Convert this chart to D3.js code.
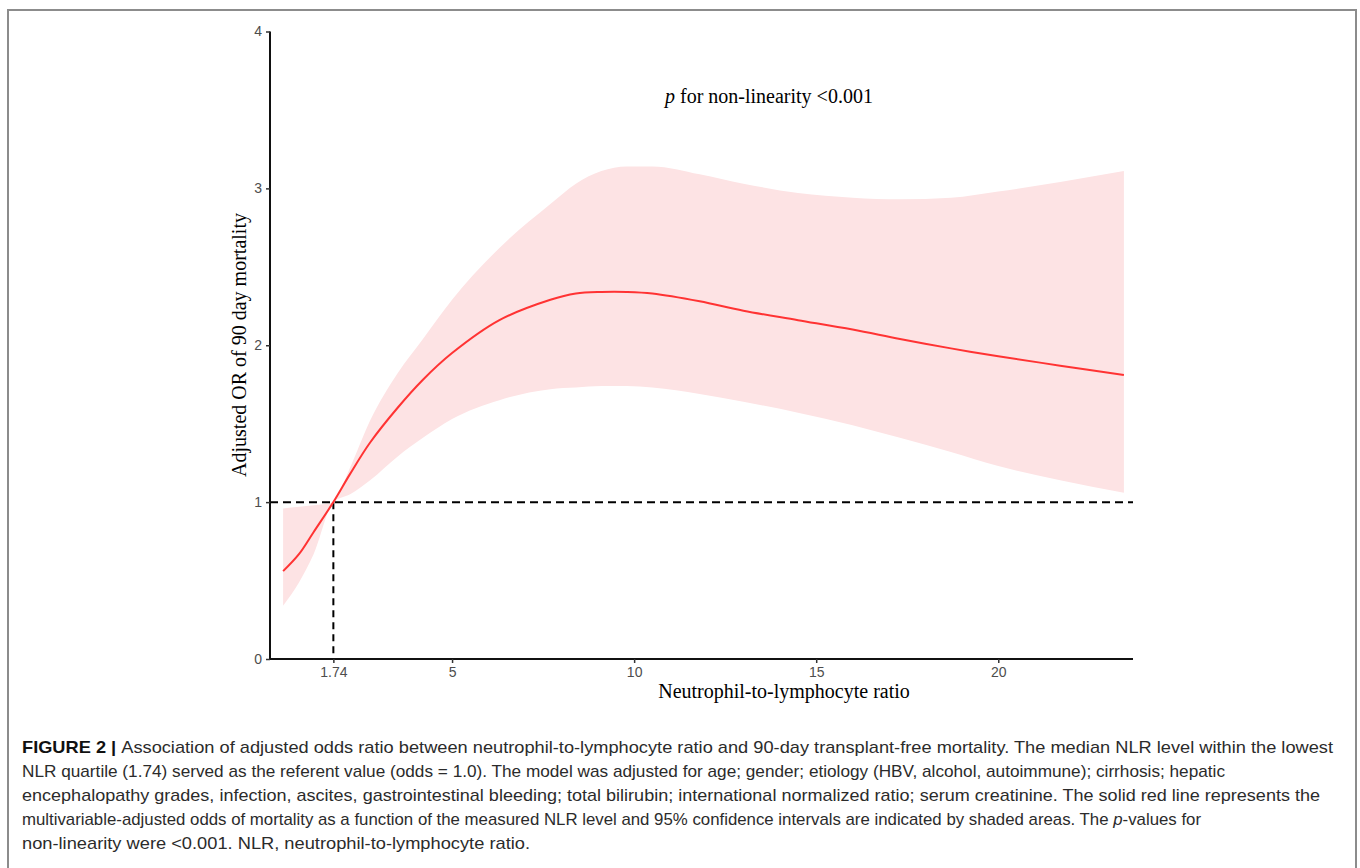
<!DOCTYPE html>
<html>
<head>
<meta charset="utf-8">
<script src="https://cdn.jsdelivr.net/npm/d3@7"></script>
<style>
  html, body { margin: 0; padding: 0; background: #fff; }
  svg { display: block; }
</style>
</head>
<body>
<div id="chart"></div>
<script>
const width = 1360;
const height = 868;

const nlr = [0.36, 0.8, 1.2, 1.74, 2.2, 2.75, 3.5, 4.2, 5, 6.3, 7.7, 8.4, 9.1, 9.8, 10.5, 11.8, 13, 14.5, 16, 17.3, 18.7, 20, 21.7, 23.45];
// adjusted OR and 95% CI
const oddsRatio = [0.56, 0.67, 0.81, 1.00, 1.18, 1.38, 1.60, 1.78, 1.95, 2.16, 2.29, 2.33, 2.34, 2.34, 2.33, 2.28, 2.22, 2.16, 2.10, 2.04, 1.98, 1.93, 1.87, 1.81];
const upperCI = [0.96, 0.97, 0.98, 1.00, 1.22, 1.52, 1.82, 2.04, 2.29, 2.62, 2.90, 3.03, 3.11, 3.14, 3.14, 3.09, 3.03, 2.97, 2.94, 2.93, 2.94, 2.98, 3.04, 3.11];
const lowerCI = [0.34, 0.49, 0.67, 1.00, 1.05, 1.14, 1.29, 1.41, 1.53, 1.65, 1.72, 1.73, 1.74, 1.74, 1.73, 1.69, 1.64, 1.57, 1.49, 1.41, 1.32, 1.23, 1.14, 1.06];

const xTicks = [1.74, 5, 10, 15, 20];
const yTicks = [0, 1, 2, 3, 4];
const refX = 1.74;
const refY = 1;

const captionLines = [
  "Association of adjusted odds ratio between neutrophil-to-lymphocyte ratio and 90-day transplant-free mortality. The median NLR level within the lowest",
  "NLR quartile (1.74) served as the referent value (odds = 1.0). The model was adjusted for age; gender; etiology (HBV, alcohol, autoimmune); cirrhosis; hepatic",
  "encephalopathy grades, infection, ascites, gastrointestinal bleeding; total bilirubin; international normalized ratio; serum creatinine. The solid red line represents the",
  "multivariable-adjusted odds of mortality as a function of the measured NLR level and 95% confidence intervals are indicated by shaded areas. The |p|-values for",
  "non-linearity were <0.001. NLR, neutrophil-to-lymphocyte ratio."
];
// right edge of each caption line in the reference
const captionEnds = [1333, 1225, 1320, 1201, 530];

const data = nlr.map((x, i) => ({ x, y: oddsRatio[i], lo: lowerCI[i], hi: upperCI[i] }));

const svg = d3.select('#chart')
  .append('svg')
  .attr('width', width)
  .attr('height', height);

// outer frame (bottom edge runs off the page)
svg.append('rect')
  .attr('x', 8).attr('y', 10)
  .attr('width', 1348).attr('height', 870)
  .attr('fill', 'none')
  .attr('stroke', '#8c8c8c')
  .attr('stroke-width', 2);

const x = d3.scaleLinear().domain([0, 23.7]).range([270, 1133]);
const y = d3.scaleLinear().domain([0, 4]).range([659, 31.5]);

// confidence band
svg.append('path')
  .datum(data)
  .attr('fill', '#fde3e4')
  .attr('d', d3.area()
    .x(d => x(d.x))
    .y0(d => y(d.lo))
    .y1(d => y(d.hi))
    .curve(d3.curveMonotoneX));

// reference lines
svg.append('line')
  .attr('x1', x(0)).attr('x2', x(23.7))
  .attr('y1', y(refY)).attr('y2', y(refY))
  .attr('stroke', '#000').attr('stroke-width', 2)
  .attr('stroke-dasharray', '8,5');

svg.append('line')
  .attr('x1', x(refX)).attr('x2', x(refX))
  .attr('y1', y(refY)).attr('y2', y(0))
  .attr('stroke', '#000').attr('stroke-width', 2)
  .attr('stroke-dasharray', '7,5');

// spline
svg.append('path')
  .datum(data)
  .attr('fill', 'none')
  .attr('stroke', '#ff3333')
  .attr('stroke-width', 2)
  .attr('d', d3.line()
    .x(d => x(d.x))
    .y(d => y(d.y))
    .curve(d3.curveCatmullRom));

// axes
const xAxis = svg.append('g')
  .attr('transform', `translate(0,${y(0)})`)
  .call(d3.axisBottom(x).tickValues(xTicks).tickSize(4).tickPadding(4)
    .tickFormat(d => d === refX ? '1.74' : d3.format('d')(d)));

const yAxis = svg.append('g')
  .attr('transform', `translate(${x(0)},0)`)
  .call(d3.axisLeft(y).tickValues(yTicks).tickSize(4).tickPadding(4)
    .tickFormat(d3.format('d')));

[xAxis, yAxis].forEach(g => {
  g.select('.domain').attr('stroke', '#111').attr('stroke-width', 2);
  g.selectAll('.tick line').attr('stroke', '#333').attr('stroke-width', 1.5);
  g.selectAll('.tick text')
    .attr('fill', '#4d4d4d')
    .attr('font-size', '14px')
    .attr('font-family', 'Liberation Sans, Arial, sans-serif');
});
// ggplot style axis lines without end caps
xAxis.select('.domain').attr('d', `M${x(0)},0H${x(23.7)}`);
yAxis.select('.domain').attr('d', `M0,${y(0)}V${y(4)}`);

// axis titles
svg.append('text')
  .attr('x', 784).attr('y', 698)
  .attr('text-anchor', 'middle')
  .attr('font-family', 'Liberation Serif, Times New Roman, serif')
  .attr('font-size', '20px')
  .attr('fill', '#000')
  .text('Neutrophil-to-lymphocyte ratio');

svg.append('text')
  .attr('transform', 'translate(246,345) rotate(-90)')
  .attr('text-anchor', 'middle')
  .attr('font-family', 'Liberation Serif, Times New Roman, serif')
  .attr('font-size', '20px')
  .attr('fill', '#000')
  .text('Adjusted OR of 90 day mortality');

// annotation
const pText = svg.append('text')
  .attr('x', 665).attr('y', 103)
  .attr('font-family', 'Liberation Serif, Times New Roman, serif')
  .attr('font-size', '20px')
  .attr('fill', '#000');
pText.append('tspan').attr('font-style', 'italic').text('p');
pText.append('tspan').text(' for non-linearity <0.001');

// caption
const caption = svg.append('g')
  .attr('font-family', 'Liberation Sans, Arial, sans-serif')
  .attr('font-size', '16.6px')
  .attr('fill', '#2b2b2b');

captionLines.forEach((line, i) => {
  const t = caption.append('text')
    .attr('x', 22)
    .attr('y', 753 + i * 24)
    .attr('textLength', captionEnds[i] - 22)
    .attr('lengthAdjust', 'spacingAndGlyphs');
  if (i === 0) {
    t.append('tspan').attr('font-weight', 'bold').attr('fill', '#111').text('FIGURE 2 | ');
  }
  line.split('|').forEach((part, j) => {
    const s = t.append('tspan').text(part);
    if (j % 2 === 1) s.attr('font-style', 'italic');
  });
});
</script>
</body>
</html>
